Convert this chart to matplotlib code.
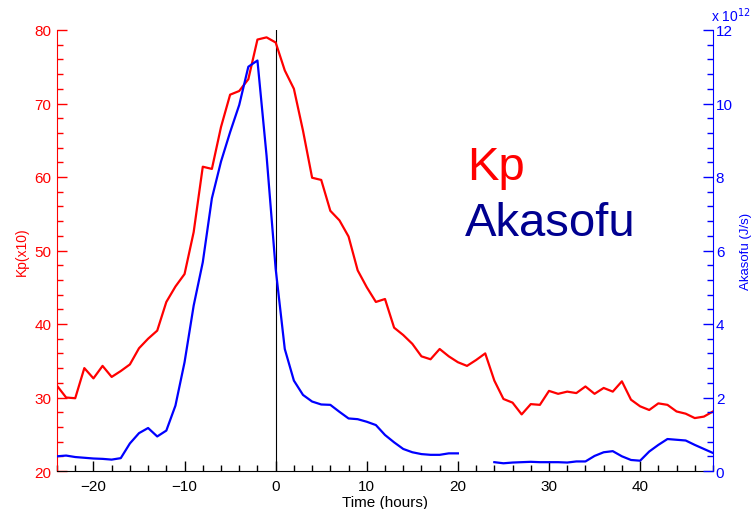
import numpy as np
import matplotlib.pyplot as plt
from matplotlib.ticker import MultipleLocator

plt.rcParams["font.family"] = ["Liberation Sans", "DejaVu Sans"]

# hourly epoch, -24 h .. +48 h relative to storm peak
hours = np.arange(-24, 49)

kp = [
    31.6, 30.0, 29.9, 34.0, 32.6, 34.3, 32.8, 33.6, 34.5, 36.7,
    38.0, 39.1, 43.0, 45.1, 46.8, 52.5, 61.4, 61.1, 66.8, 71.2,
    71.7, 73.3, 78.7, 79.0, 78.3, 74.5, 72.0, 66.3, 59.9, 59.6,
    55.4, 54.1, 51.9, 47.3, 45.0, 43.0, 43.4, 39.5, 38.5, 37.3,
    35.6, 35.2, 36.6, 35.6, 34.8, 34.3, 35.1, 36.0, 32.3, 29.8,
    29.3, 27.7, 29.1, 29.0, 30.9, 30.5, 30.8, 30.6, 31.5, 30.5,
    31.3, 30.8, 32.2, 29.7, 28.8, 28.3, 29.2, 29.0, 28.1, 27.8,
    27.2, 27.4, 28.1,
]

# Akasofu epsilon in units of 1e12 J/s, gap at 21-23 h
akasofu = [
    0.40, 0.42, 0.38, 0.36, 0.34, 0.33, 0.31, 0.35, 0.75, 1.03,
    1.17, 0.94, 1.10, 1.78, 2.96, 4.50, 5.68, 7.42, 8.42, 9.22,
    9.96, 11.00, 11.17, 8.58, 5.50, 3.32, 2.46, 2.07, 1.89, 1.81,
    1.80, 1.61, 1.43, 1.41, 1.34, 1.25, 0.98, 0.78, 0.60, 0.51,
    0.46, 0.44, 0.44, 0.48, 0.48, np.nan, np.nan, np.nan, 0.24, 0.21,
    0.23, 0.24, 0.25, 0.24, 0.24, 0.24, 0.23, 0.26, 0.26, 0.41,
    0.51, 0.54, 0.40, 0.30, 0.28, 0.53, 0.71, 0.87, 0.85, 0.83,
    0.71, 0.60, 0.49,
]

KP_COLOR = "#ff0000"
AK_COLOR = "#0000ff"

fig = plt.figure(figsize=(7.53, 5.10), dpi=100)
ax = fig.add_axes([57 / 753, 1 - 472 / 510, 656 / 753, 441 / 510])
ax2 = ax.twinx()

ax.plot(hours, kp, color=KP_COLOR, lw=1.6, zorder=3)
ax2.plot(hours, akasofu, color=AK_COLOR, lw=1.6)
ax.axvline(0, color="black", lw=0.8, zorder=2)

ax.set_xlim(-24, 48)
ax.set_ylim(20, 80)
ax2.set_ylim(0, 12)

ax.xaxis.set_major_locator(MultipleLocator(10))
ax.xaxis.set_minor_locator(MultipleLocator(2))
ax.yaxis.set_major_locator(MultipleLocator(10))
ax.yaxis.set_minor_locator(MultipleLocator(2))
ax2.yaxis.set_major_locator(MultipleLocator(2))
ax2.yaxis.set_minor_locator(MultipleLocator(0.4))

for a in (ax, ax2):
    a.spines["top"].set_visible(False)
ax2.spines["left"].set_visible(False)
ax2.spines["bottom"].set_visible(False)
ax.spines["right"].set_visible(False)
ax.spines["left"].set_color(KP_COLOR)
ax2.spines["right"].set_color(AK_COLOR)

ax.tick_params(axis="x", which="major", direction="in", length=7, width=1,
               labelsize=11, pad=6, top=False)
ax.tick_params(axis="x", which="minor", direction="in", length=4, width=1, top=False)
ax.tick_params(axis="y", which="major", direction="in", length=7, width=1,
               colors=KP_COLOR, labelsize=11, pad=4)
ax.tick_params(axis="y", which="minor", direction="in", length=4, width=1,
               colors=KP_COLOR)
ax2.tick_params(axis="y", which="major", direction="in", length=7, width=1,
                colors=AK_COLOR, labelsize=11, pad=2)
ax2.tick_params(axis="y", which="minor", direction="in", length=4, width=1,
                colors=AK_COLOR)

ax.set_xlabel("Time (hours)", fontsize=11, labelpad=1)

# axis titles placed by hand so they sit where the tick labels leave room
fig.text(22 / 753, 1 - 252 / 510, "Kp(x10)", color=KP_COLOR,
         fontsize=10, rotation=90, ha="center", va="center")
fig.text(746 / 753, 1 - 251 / 510, "Akasofu (J/s)", color=AK_COLOR,
         fontsize=9.5, rotation=90, ha="center", va="center")

fig.text(711 / 753, 1 - 22 / 510, r"x 10$^{12}$", color=AK_COLOR,
         fontsize=10, ha="left", va="baseline")

fig.text(467 / 753, 1 - 180 / 510, "Kp", color=KP_COLOR, fontsize=34,
         ha="left", va="baseline")
fig.text(465 / 753, 1 - 236 / 510, "Akasofu", color="#000090", fontsize=34,
         ha="left", va="baseline")

fig.savefig("out.png", dpi=100)
